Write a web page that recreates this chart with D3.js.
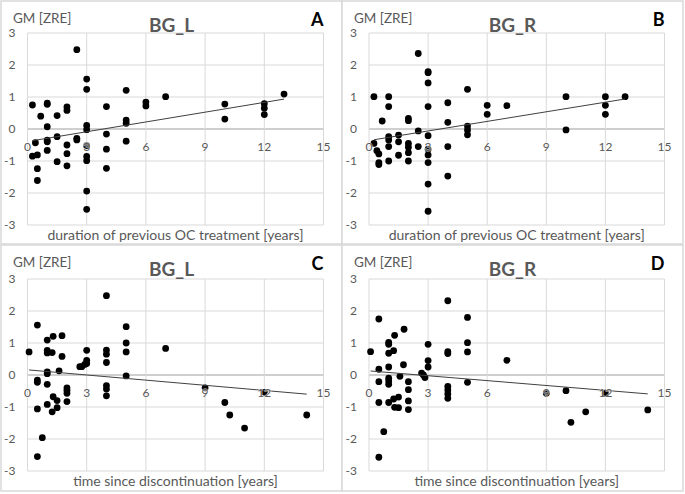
<!DOCTYPE html>
<html><head><meta charset="utf-8">
<script src="https://cdn.jsdelivr.net/npm/d3@7"></script>
<style>body{margin:0;background:#fff} svg{display:block}</style>
</head><body>
<svg id="chart" width="685" height="494"></svg>
<script>
// ---------- data ----------
const xTicks = [0, 3, 6, 9, 12, 15];
const yTicks = [-3, -2, -1, 0, 1, 2, 3];
const yLabel = "GM [ZRE]";

// Panel A: duration of previous OC treatment vs GM, BG_L
const durA = [0.25,0.4,0.25,0.5,0.5,0.5,0.67,1,1,1,1,1,1,1.5,1.5,1.5,2,2,2,2,2,2.5,2.5,2.5,3,3,3,3,3,3,3,3,3,4,4,4,4,5,5,5,5,6,6,7,10,10,12,12,12,13];
const gmA  = [0.75,-0.43,-0.85,-0.81,-1.24,-1.61,0.40,0.81,0.77,0.07,-0.35,-0.40,-0.67,0.42,-0.24,-1.02,0.69,0.58,-0.50,-0.77,-1.15,2.48,-0.29,-0.34,1.56,1.24,0.11,-0.02,-0.52,-0.86,-0.99,-1.94,-2.51,0.70,-0.16,-0.63,-1.23,1.21,0.28,0.18,-0.38,0.84,0.72,1.01,0.78,0.31,0.79,0.65,0.45,1.09];

// Panel B: duration of previous OC treatment vs GM, BG_R
const durB = [0.25,0.25,0.4,0.5,0.5,0.5,0.67,1,1,1,1,1,1,1.5,1.5,1.5,2,2,2,2,2,2,2.5,2.5,2.5,3,3,3,3,3,3,3,3,3,3,4,4,4,4,5,5,5,5,6,6,7,10,10,12,12,12,13];
const gmB  = [1.01,-0.45,-0.68,-0.78,-1.05,-1.11,0.25,1.01,0.70,-0.24,-0.34,-0.55,-1.00,-0.19,-0.40,-0.82,0.33,0.26,-0.45,-0.57,-0.74,-1.00,2.36,-0.06,-0.55,1.79,1.76,1.44,0.70,-0.21,-0.63,-0.81,-1.05,-1.72,-2.57,0.82,0.21,-0.55,-1.47,1.24,0.09,-0.03,-0.18,0.74,0.46,0.73,1.01,-0.03,1.01,0.74,0.46,1.01];

// Panel C: time since discontinuation vs GM, BG_L
const timeC = [0.08,0.5,0.5,0.5,0.5,0.5,0.75,1,1,1,1,1,1,1,1.25,1.25,1.3,1.3,1.5,1.5,1.6,1.75,1.75,2,2,2,2,2.65,2.75,2.9,3,3,3,4,4,4,4,4,4,4,5,5,5,5,7,9,10,10.25,11,12,14.15];
const gmC   = [0.72,1.56,-0.16,-0.23,-1.06,-2.55,-1.96,1.09,0.77,0.69,0.10,0.04,-0.29,-0.92,0.70,-1.15,1.21,-0.68,-0.80,-1.02,0.13,1.23,0.58,-0.40,-0.48,-0.57,-0.83,0.26,0.26,0.33,0.77,0.46,0.36,2.48,0.78,0.65,0.39,-0.33,-0.44,-0.65,1.51,1.00,0.72,-0.03,0.83,-0.40,-0.86,-1.25,-1.66,-0.54,-1.25];

// Panel D: time since discontinuation vs GM, BG_R
const timeD = [0.08,0.5,0.5,0.5,0.5,0.5,0.75,1,1,1,1,1,1,1,1,1.25,1.3,1.25,1.3,1.5,1.5,1.57,1.78,1.75,2,2,2,2,2.67,2.76,2.84,3,3,3,4,4,4,4,4,4,4,5,5,5,5,7,9,10,10.25,11,12,14.15];
const gmD   = [0.73,1.75,0.18,-0.21,-0.86,-2.57,-1.77,1.02,0.96,0.68,0.25,-0.10,-0.19,-0.29,-0.86,0.76,1.24,-0.75,-1.01,-0.69,-1.02,-0.04,1.43,0.32,-0.21,-0.46,-0.81,-1.08,0.06,0.00,-0.08,0.96,0.45,0.25,2.32,0.73,0.67,-0.36,-0.47,-0.59,-0.73,1.80,1.01,0.72,-0.23,0.46,-0.57,-0.49,-1.48,-1.15,-0.57,-1.09];

const letters = ["A", "B", "C", "D"];
const titles  = ["BG_L", "BG_R", "BG_L", "BG_R"];
const xTitles = ["duration of previous OC treatment [years]", "duration of previous OC treatment [years]",
                 "time since discontinuation [years]", "time since discontinuation [years]"];
const xSeries = [durA, durB, timeC, timeD];
const ySeries = [gmA, gmB, gmC, gmD];

// ---------- layout ----------
const layout = [
  {box:[1,1,341,243],   plot:[27.5,323.5,33,225]},
  {box:[342,1,341,243], plot:[369,664.5,33,225]},
  {box:[1,245,341,246], plot:[27.5,323.5,279,471]},
  {box:[342,245,341,246], plot:[369,664.5,279,471]}
];

const FONT = "Lato, 'Open Sans', sans-serif";
const GRAY = "#595959";
const svg = d3.select("#chart");

function linfit(xs, ys) {
  const mx = d3.mean(xs), my = d3.mean(ys);
  let sxy = 0, sxx = 0;
  xs.forEach((x, i) => { sxy += (x - mx) * (ys[i] - my); sxx += (x - mx) * (x - mx); });
  const b = sxy / sxx;
  return {a: my - b * mx, b};
}

layout.forEach((L, i) => {
  const [bx, by, bw, bh] = L.box;
  const [x0, x1, yTop, yBot] = L.plot;
  const g = svg.append("g");
  g.append("rect").attr("x", bx).attr("y", by).attr("width", bw).attr("height", bh)
    .attr("fill", "#fff").attr("stroke", "#d9d9d9").attr("stroke-width", 1.5);

  const x = d3.scaleLinear().domain([0, 15]).range([x0, x1]);
  const y = d3.scaleLinear().domain([-3, 3]).range([yBot, yTop]);

  // grid
  g.append("g").selectAll("line").data(yTicks).join("line")
    .attr("x1", x0).attr("x2", x1).attr("y1", d => y(d)).attr("y2", d => y(d))
    .attr("stroke", d => d === 0 ? "#bfbfbf" : "#d9d9d9").attr("stroke-width", d => d === 0 ? 1.5 : 1);
  g.append("g").selectAll("line").data(xTicks).join("line")
    .attr("x1", d => x(d)).attr("x2", d => x(d)).attr("y1", yTop).attr("y2", yBot)
    .attr("stroke", "#d9d9d9").attr("stroke-width", 1);

  // y tick labels
  g.append("g").selectAll("text").data(yTicks).join("text")
    .attr("x", x0 - 12).attr("y", d => y(d)).attr("dy", "0.36em")
    .attr("text-anchor", "end").attr("font-family", FONT).attr("font-size", 12)
    .attr("fill", GRAY).text(d => d);

  // trendline
  const xs = xSeries[i], ys = ySeries[i];
  const f = linfit(xs, ys);
  const [mn, mx] = d3.extent(xs);

  // points
  g.append("g").selectAll("circle").data(xs.map((d, k) => [d, ys[k]])).join("circle")
    .attr("cx", d => x(d[0])).attr("cy", d => y(d[1])).attr("r", 3.4).attr("fill", "#000");

  g.append("line").attr("x1", x(mn)).attr("y1", y(f.a + f.b * mn))
    .attr("x2", x(mx)).attr("y2", y(f.a + f.b * mx))
    .attr("stroke", "#404040").attr("stroke-width", 1);

  // x tick labels (axis crosses at 0), drawn over the points
  g.append("g").selectAll("text").data(xTicks).join("text")
    .attr("x", d => x(d)).attr("y", y(0) + 18).attr("dy", "0.36em")
    .attr("text-anchor", "middle").attr("font-family", FONT).attr("font-size", 12)
    .attr("fill", GRAY).attr("stroke", "rgba(255,255,255,0.6)").attr("stroke-width", 1.5)
    .attr("paint-order", "stroke").text(d => d);

  // texts
  g.append("text").attr("x", bx + 12).attr("y", by + 17).attr("dy", "0.36em")
    .attr("font-family", FONT).attr("font-size", 13.5).attr("fill", GRAY).text(yLabel);
  g.append("text").attr("x", bx + bw / 2).attr("y", by + 24).attr("dy", "0.36em")
    .attr("text-anchor", "middle").attr("font-family", FONT).attr("font-size", 19)
    .attr("font-weight", "bold").attr("fill", GRAY).text(titles[i]);
  g.append("text").attr("x", x1).attr("y", by + 19).attr("dy", "0.36em")
    .attr("text-anchor", "end").attr("font-family", FONT).attr("font-size", 18)
    .attr("font-weight", "bold").attr("fill", "#000").text(letters[i]);
  g.append("text").attr("x", (x0 + x1) / 2).attr("y", yBot + 10).attr("dy", "0.36em")
    .attr("text-anchor", "middle").attr("font-family", FONT).attr("font-size", 14)
    .attr("fill", GRAY).text(xTitles[i]);
});
</script>
</body></html>
